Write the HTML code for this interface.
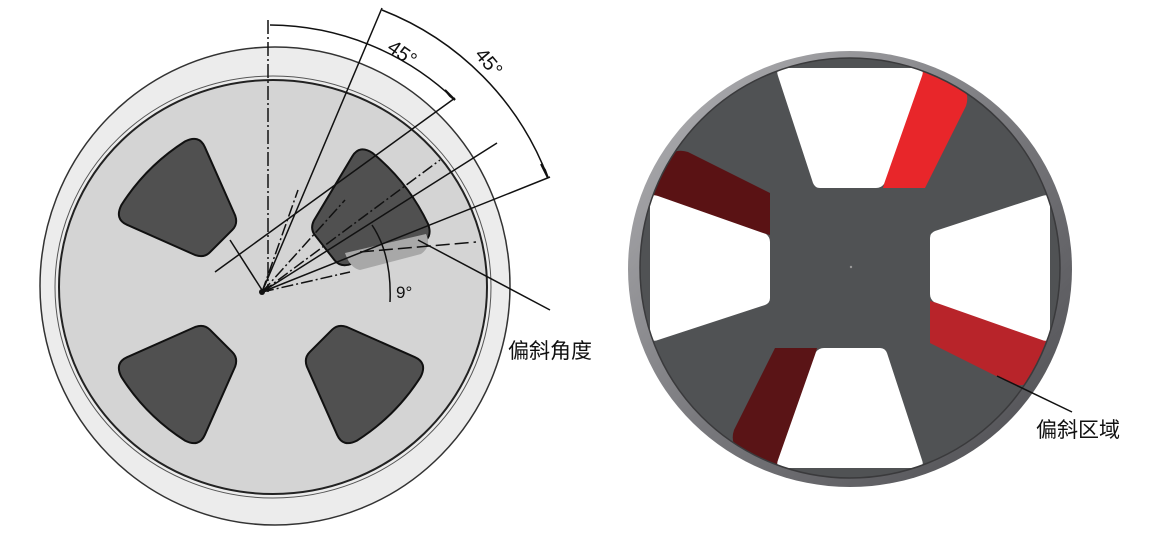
<!DOCTYPE html>
<html><head><meta charset="utf-8"><style>
html,body{margin:0;padding:0;background:#fff;}
svg{display:block;}
text{font-family:"Liberation Sans","Noto Sans CJK SC",sans-serif;}
</style></head><body>
<svg width="1161" height="549" viewBox="0 0 1161 549" xmlns="http://www.w3.org/2000/svg">
<defs>
<clipPath id="inner"><circle cx="850" cy="268" r="210"/></clipPath>
<linearGradient id="rim" x1="0" y1="0" x2="1" y2="1">
<stop offset="0" stop-color="#b5b5b8"/><stop offset="0.5" stop-color="#7a7a7e"/><stop offset="1" stop-color="#4a4a4e"/>
</linearGradient>
<path id="hole" d="M-45,-168 Q0,-178 45,-168 Q60,-163 55,-150 L28,-80 Q24,-72 16,-72 L-16,-72 Q-24,-72 -28,-80 L-55,-150 Q-60,-163 -45,-168 Z"/>
<path id="red" d="M66,-200 L100,-190 Q122,-180 116,-162 L75,-80 L33,-80 Z"/>
<path id="wh" d="M-72,-192 Q-75,-200 -66,-200 L66,-200 Q75,-200 72,-192 L34,-84 Q31,-80 26,-80 L-30,-80 Q-35,-80 -37,-85 Z"/>
</defs>
<!-- LEFT DIAGRAM -->
<ellipse cx="275" cy="286" rx="235" ry="239" fill="#ececec" stroke="#333" stroke-width="1.5"/>
<ellipse cx="273" cy="287" rx="218" ry="211" fill="none" stroke="#555" stroke-width="1"/>
<ellipse cx="273" cy="287" rx="214" ry="207" fill="#d4d4d4" stroke="#222" stroke-width="2"/>
<g fill="#505050" stroke="#111" stroke-width="2" stroke-linejoin="round">
<use href="#hole" transform="translate(272,292) rotate(-45)"/>
<use href="#hole" transform="translate(268,292) rotate(52)"/>
<use href="#hole" transform="translate(272,290) rotate(-135)"/>
<use href="#hole" transform="translate(270,290) rotate(135)"/>
</g>
<path d="M345,253 L426,234 Q432,246 421,254 L360,270 Q350,268 345,253 Z" fill="#a8a8a8"/>
<g stroke="#111" stroke-width="1.5" fill="none">
<line x1="268" y1="20" x2="268" y2="292" stroke-dasharray="14,3,2,3"/>
<line x1="262" y1="292" x2="382" y2="8"/>
<line x1="215" y1="272" x2="455" y2="98"/>
<line x1="262" y1="292" x2="497" y2="143"/>
<line x1="262" y1="292" x2="550" y2="177"/>
<line x1="262" y1="292" x2="298" y2="190" stroke-dasharray="12,3,2,3"/>
<line x1="262" y1="292" x2="345" y2="200" stroke-dasharray="12,3,2,3"/>
<line x1="262" y1="292" x2="350" y2="272" stroke-dasharray="12,3,2,3"/>
<line x1="262" y1="292" x2="440" y2="160" stroke-dasharray="12,3,2,3"/>
<line x1="360" y1="252" x2="476" y2="242" stroke-dasharray="14,5"/>
<line x1="230" y1="240" x2="262" y2="290"/>
<line x1="418" y1="240" x2="550" y2="310"/>
<path d="M270,25 A270,270 0 0 1 455,100"/>
<path d="M382,10 A290,290 0 0 1 548,178"/>
<path d="M372,225 Q392,255 390,302"/>
</g>
<polygon points="455,100 445,90 450,96" fill="#111" stroke="#111" stroke-width="2"/>
<polygon points="548,178 541,164 545,170" fill="#111" stroke="#111" stroke-width="2"/>
<circle cx="262" cy="292" r="3" fill="#111"/>
<text x="0" y="0" font-size="20" fill="#111" transform="translate(386,50) rotate(35)">45°</text>
<text x="0" y="0" font-size="20" fill="#111" transform="translate(474,55) rotate(50)">45°</text>
<text x="396" y="298" font-size="17" fill="#111">9°</text>
<text x="508" y="358" font-size="21" fill="#111">偏斜角度</text>
<!-- RIGHT WHEEL -->
<ellipse cx="850" cy="269" rx="222" ry="218" fill="url(#rim)"/>
<circle cx="850" cy="268" r="210" fill="#505254"/>
<g clip-path="url(#inner)">
<g transform="translate(850,268) rotate(0)"><use href="#red" fill="#e8262a"/><use href="#wh" fill="#fff"/></g>
<g transform="translate(850,268) rotate(90)"><use href="#red" fill="#b8242a"/><use href="#wh" fill="#fff"/></g>
<g transform="translate(850,268) rotate(180)"><use href="#red" fill="#5a1416"/><use href="#wh" fill="#fff"/></g>
<g transform="translate(850,268) rotate(270)"><use href="#red" fill="#5a1214"/><use href="#wh" fill="#fff"/></g>
</g>
<circle cx="850" cy="268" r="210" fill="none" stroke="#3a3a3c" stroke-width="1.5"/>
<circle cx="851" cy="267" r="1.2" fill="#999"/>
<line x1="997" y1="376" x2="1072" y2="412" stroke="#111" stroke-width="1.5"/>
<text x="1036" y="437" font-size="21" fill="#111">偏斜区域</text>
</svg>
</body></html>
